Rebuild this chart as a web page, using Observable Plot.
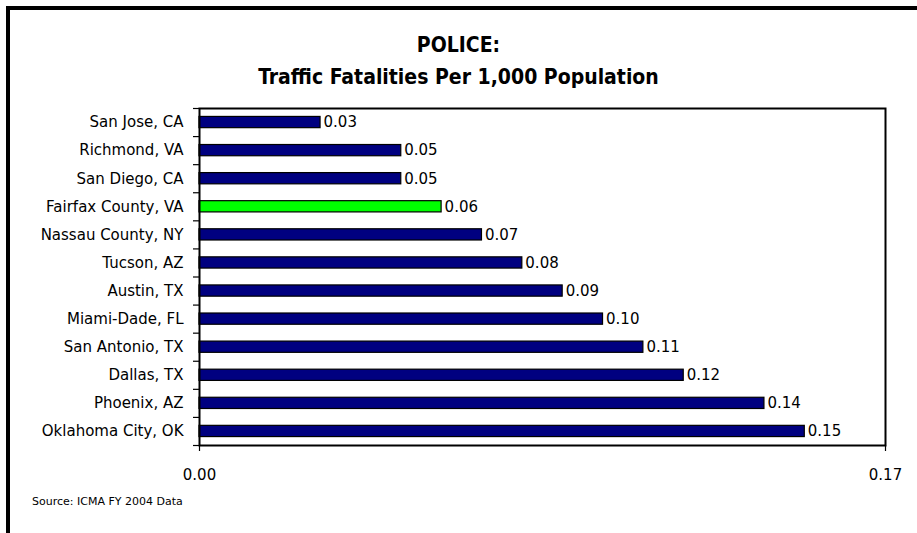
<!DOCTYPE html>
<html>
<head>
<meta charset="utf-8">
<script src="https://cdn.jsdelivr.net/npm/d3@7"></script>
<script src="https://cdn.jsdelivr.net/npm/@observablehq/plot@0.6"></script>
<style>
  html, body { margin: 0; padding: 0; background: #fff; }
  #page { position: relative; width: 917px; height: 533px; overflow: hidden; background: #fff; }
  #border { position: absolute; left: 6px; top: 6px; right: -10px; bottom: -10px; border-left: 4px solid #000; border-top: 4px solid #000; }
  #title { position: relative; padding-top: 29px; text-align: center; font-family: "Liberation Sans Narrow", "DejaVu Sans Condensed", "Arial Narrow", sans-serif; font-stretch: condensed; font-weight: bold; font-size: 21px; line-height: 32px; color: #000; }
  #chart { position: relative; }
  #chart svg { display: block; }
  #caption { position: relative; padding-left: 32px; font-family: "DejaVu Sans", sans-serif; font-size: 11px; line-height: 14px; color: #000; }
</style>
</head>
<body>
<div id="page">
  <div id="border"></div>
  <div id="title">POLICE:<br>Traffic Fatalities Per 1,000 Population</div>
  <div id="chart"></div>
  <div id="caption">Source: ICMA FY 2004 Data</div>
</div>
<script>
const cities = ["San Jose, CA", "Richmond, VA", "San Diego, CA", "Fairfax County, VA", "Nassau County, NY", "Tucson, AZ", "Austin, TX", "Miami-Dade, FL", "San Antonio, TX", "Dallas, TX", "Phoenix, AZ", "Oklahoma City, OK"];
const values = [0.03, 0.05, 0.05, 0.06, 0.07, 0.08, 0.09, 0.10, 0.11, 0.12, 0.14, 0.15];
const highlight = "Fairfax County, VA";
const xTicks = [0, 0.17];
const xDomain = [0, 0.17];

const data = cities.map((c, i) => ({city: c, value: values[i], idx: i}));
const half = 0.2;
const boundaries = d3.range(cities.length + 1).map(i => i - 0.5);

const chart = Plot.plot({
  width: 917,
  height: 402,
  marginTop: 15,
  marginBottom: 50,
  marginLeft: 199,
  marginRight: 32,
  style: {fontFamily: "'DejaVu Sans', sans-serif", fontSize: "15px", color: "#000", background: "transparent"},
  x: {domain: xDomain, label: null},
  y: {domain: [cities.length - 0.5, -0.5], label: null},
  marks: [
    Plot.rectX(data, {
      x1: 0, x2: "value",
      y1: d => d.idx - half, y2: d => d.idx + half,
      fill: d => d.city === highlight ? "#00ff00" : "#000080",
      stroke: "#000", strokeWidth: 1.2
    }),
    Plot.text(data, {
      x: "value", y: "idx",
      text: d => d3.format(".2f")(d.value),
      textAnchor: "start", dx: 3, fontSize: 15, fill: "#000"
    }),
    Plot.frame({stroke: "#000", strokeWidth: 2}),
    Plot.axisY(boundaries, {tickSize: 6, tickFormat: () => "", label: null, strokeWidth: 1.2}),
    Plot.axisY(d3.range(cities.length), {tickSize: 0, tickPadding: 16, tickFormat: i => cities[i], label: null, fontSize: 15}),
    Plot.axisX(xTicks, {tickSize: 6, tickPadding: 18, tickFormat: d3.format(".2f"), label: null, fontSize: 15, strokeWidth: 1.2})
  ]
});
document.getElementById("chart").appendChild(chart);
</script>
</body>
</html>
